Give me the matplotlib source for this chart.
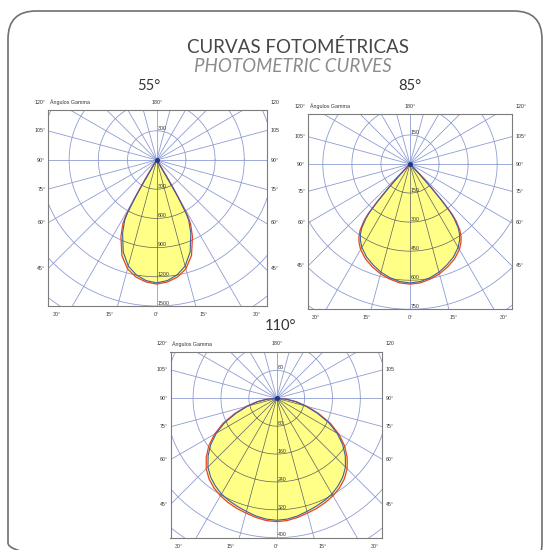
import numpy as np
import matplotlib.pyplot as plt
from matplotlib.patches import FancyBboxPatch
from matplotlib.transforms import offset_copy

W, H = 545, 550

# --- data (cd/klm) ---
titles = ["55°", "85°", "110°"]
vmax = [1500, 750, 400]
steps = [300, 150, 80]

gamma1 = [0, 5, 10, 15, 20, 25, 28, 29, 30, 30.5, 31, 31.5, 32, 33]
red1 = [1275, 1258, 1222, 1158, 1045, 870, 740, 650, 450, 320, 190, 90, 20, 0]
blue1 = [1262, 1244, 1200, 1128, 1005, 830, 700, 610, 410, 290, 170, 80, 15, 0]

gamma2 = [0, 5, 10, 15, 20, 25, 30, 33, 35, 37, 39, 40, 41, 42, 43, 44, 46]
red2 = [620, 616, 603, 587, 566, 542, 510, 483, 460, 428, 378, 338, 262, 170, 85, 25, 0]
blue2 = [614, 609, 596, 578, 555, 530, 497, 470, 447, 414, 362, 322, 245, 155, 75, 20, 0]

gamma3 = [0, 5, 10, 15, 20, 25, 30, 35, 40, 45, 50, 55, 60, 65, 70, 75, 80, 85, 90]
red3 = [354, 352, 347, 341, 336, 330, 323, 314, 302, 286, 264, 238, 206, 170, 128, 90, 58, 28, 0]
blue3 = [350, 348, 343, 336, 330, 324, 317, 307, 295, 279, 257, 231, 200, 164, 123, 86, 55, 26, 0]

curves = [(gamma1, red1, blue1), (gamma2, red2, blue2), (gamma3, red3, blue3)]

# --- layout in pixels: source x, source y, frame left, right, top, bottom ---
frames = [(156.7, 160, 48.3, 266.7, 110, 306),
          (410, 164, 308.3, 511.7, 114, 309.3),
          (276.7, 398.3, 170.5, 382, 351.7, 537.7)]
title_pos = [(149, 86), (410, 86), (280, 326)]
cut_right = [True, False, True]

GRID = '#8e9cd3'
TXT = '#333333'
small = dict(fontsize=3.8, color=TXT, family='Liberation Sans')

fig = plt.figure(figsize=(W / 100, H / 100), dpi=100)

bg = fig.add_axes([0, 0, 1, 1])
bg.set_xlim(0, W)
bg.set_ylim(H, 0)
bg.axis('off')
bg.add_patch(FancyBboxPatch((8, 11), 534, 560, boxstyle="round,pad=0,rounding_size=28",
                            fc='none', ec='#707070', lw=1.2))
bg.text(298, 47, "CURVAS FOTOMÉTRICAS", ha='center', va='center', fontsize=13.5,
        color='#474747', family='Lato')
bg.text(293, 67, "PHOTOMETRIC CURVES", ha='center', va='center', fontsize=13.5,
        color='#8c8c8c', family='Lato', style='italic')


def draw_grid(ax, vals, color, lw, z, clip=None):
    t = np.linspace(0, 2 * np.pi, 361)
    arts = []
    for v in vals:
        arts += ax.plot(v * np.cos(t), v * np.sin(t), color=color, lw=lw, zorder=z)
    far = 10 * vals[-1]
    for a in np.arange(0, 360, 15):
        r = np.radians(a)
        arts += ax.plot([0, far * np.sin(r)], [0, -far * np.cos(r)], color=color, lw=lw, zorder=z)
    if clip is not None:
        for a in arts:
            a.set_clip_path(clip)


for i in range(3):
    cx, cy, L, Rt, T, B = frames[i]
    gam, red, blue = curves[i]
    s = (B - cy) / vmax[i]
    ax = fig.add_axes([L / W, 1 - B / H, (Rt - L) / W, (B - T) / H])
    ax.set_zorder(2)

    vals = [steps[i] * k for k in range(1, 8)]
    draw_grid(ax, vals, GRID, 0.6, 1)

    g = np.radians(gam)
    outl = []
    for I in (np.array(red), np.array(blue)):
        x = np.concatenate([-(I * np.sin(g))[::-1], (I * np.sin(g))[1:]])
        y = np.concatenate([-(I * np.cos(g))[::-1], -(I * np.cos(g))[1:]])
        outl.append((x, y))
    poly = ax.fill(outl[0][0], outl[0][1], color='#ffff88', lw=0, zorder=2)[0]
    draw_grid(ax, vals, '#5e5e5e', 0.5, 3, clip=poly)
    ax.plot(outl[0][0], outl[0][1], color='#e8442c', lw=0.9, zorder=4)
    ax.plot(outl[1][0], outl[1][1], color='#3f5ea6', lw=0.8, zorder=4)
    ax.plot([0], [0], 'o', ms=2.6, color='#1f3a8a', zorder=5)

    tr = offset_copy(ax.transData, fig=fig, x=1, y=0.3, units='dots')
    for v in vals:
        if v <= vmax[i]:
            ax.text(0, -v, str(v), transform=tr, ha='left', va='bottom', zorder=6, **small)
    ax.text(0, steps[i], str(steps[i]), transform=tr, ha='left', va='bottom', zorder=6, **small)

    ax.set_xlim((L - cx) / s, (Rt - cx) / s)
    ax.set_ylim(-vmax[i], (cy - T) / s)
    ax.set_xticks([])
    ax.set_yticks([])
    for sp in ax.spines.values():
        sp.set_color('#7c7c7c')
        sp.set_linewidth(0.8)

    # labels around the frame
    deg = "" if cut_right[i] else "°"
    ty = T - 8
    bg.text(L - 3, ty, "120°", ha='right', va='center', **small)
    bg.text(L + 2, ty, "Ángulos Gamma", ha='left', va='center', **small)
    bg.text(cx, ty, "180°", ha='center', va='center', **small)
    bg.text(Rt + 4, ty, "120" + deg, ha='left', va='center', **small)
    hw = cx - L
    for a in [105, 90, 75, 60, 45]:
        ly = cy + hw / np.tan(np.radians(a))
        bg.text(L - 3, ly, f"{a}°", ha='right', va='center', **small)
        rd = deg if a == 105 else "°"
        bg.text(Rt + 4, ly, f"{a}{rd}", ha='left', va='center', **small)
    for a, f in [(0, 0), (15, 0.43), (30, 0.925)]:
        for sg in ([1] if a == 0 else [-1, 1]):
            bg.text(cx + sg * f * hw, B + 8.5, f"{a}°", ha='center', va='center', **small)
    bg.text(Rt - 3, B - 4.5, "cd/klm", ha='right', va='center', **small)

    tx, tyy = title_pos[i]
    bg.text(tx, tyy, titles[i], ha='center', va='center', fontsize=10.5, color=TXT,
            family='Lato')

fig.savefig('out.png', dpi=100)
